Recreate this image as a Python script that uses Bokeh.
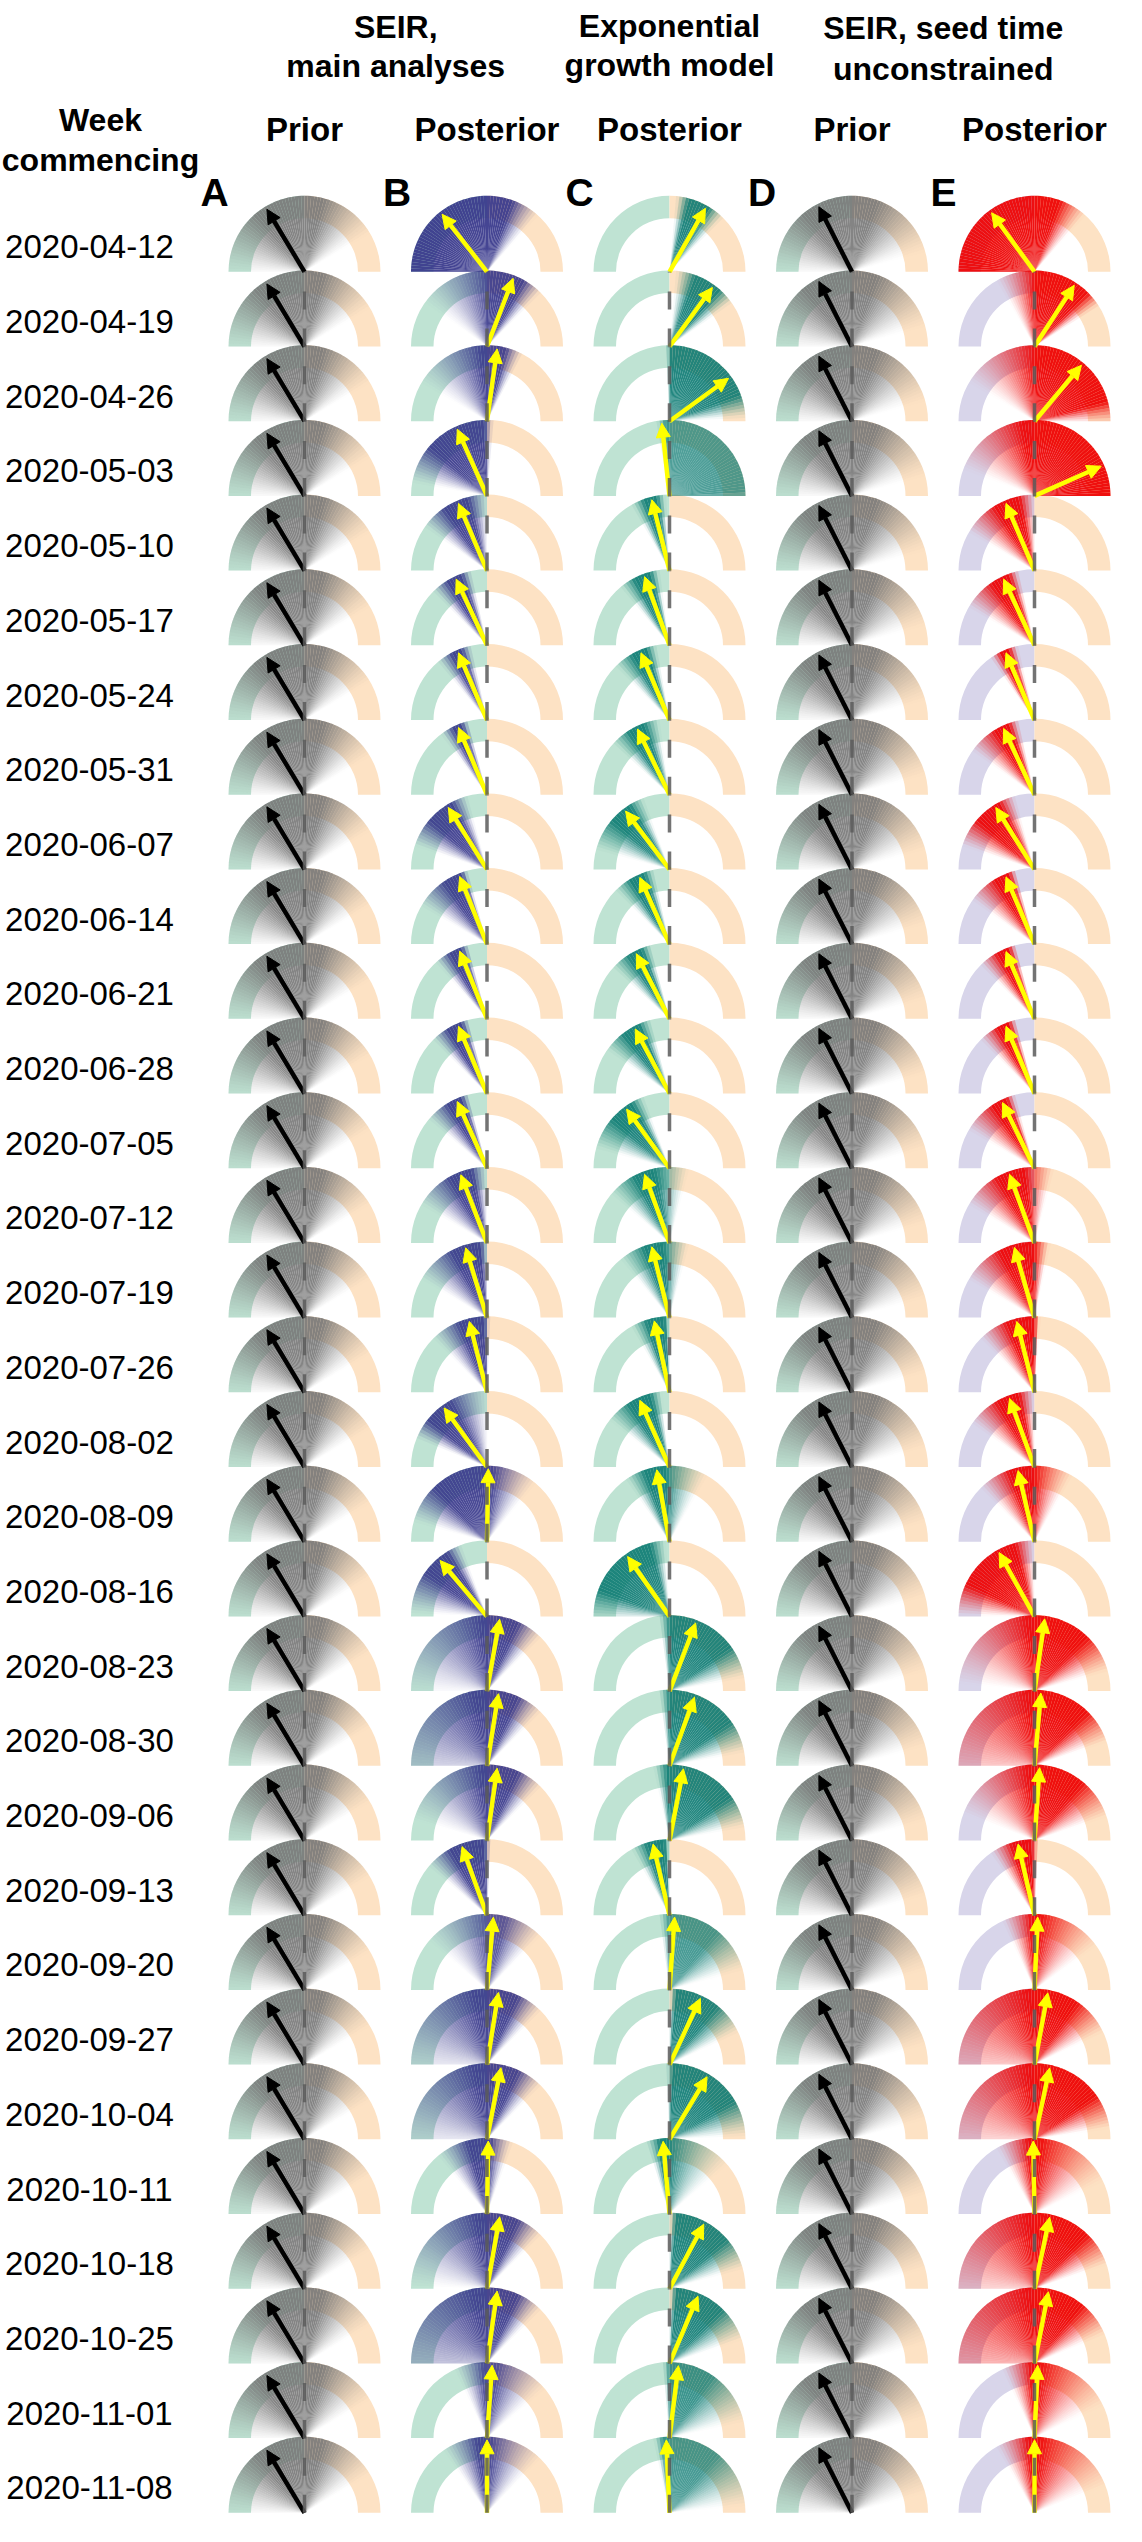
import numpy as np
from bokeh.plotting import figure
from bokeh.models import ColumnDataSource, Range1d, Arrow, NormalHead
from bokeh.core.properties import value
from bokeh.embed import file_html
from bokeh.resources import INLINE

# ---------------- data ----------------
weeks = ["2020-04-12", "2020-04-19", "2020-04-26", "2020-05-03", "2020-05-10",
         "2020-05-17", "2020-05-24", "2020-05-31", "2020-06-07", "2020-06-14",
         "2020-06-21", "2020-06-28", "2020-07-05", "2020-07-12", "2020-07-19",
         "2020-07-26", "2020-08-02", "2020-08-09", "2020-08-16", "2020-08-23",
         "2020-08-30", "2020-09-06", "2020-09-13", "2020-09-20", "2020-09-27",
         "2020-10-04", "2020-10-11", "2020-10-18", "2020-10-25", "2020-11-01",
         "2020-11-08"]

group_titles = [["SEIR,", "main analyses"], ["Exponential", "growth model"],
                ["SEIR, seed time", "unconstrained"]]
column_titles = ["Prior", "Posterior", "Posterior", "Prior", "Posterior"]
panel_letters = ["A", "B", "C", "D", "E"]

# Dial readings in degrees of tilt from vertical (negative = decline, positive = growth).
# med = median (arrow); lo / core_lo / core_hi / hi describe the shaded density band.
prior_main = dict(med=-31, lo=-95, core_lo=-40, core_hi=15, hi=60, peak=0.9)
prior_seed = dict(med=-27, lo=-95, core_lo=-40, core_hi=20, hi=75, peak=0.9)

seir_med = [-38, 21, 8, -24, -23, -25, -23, -23, -32, -22, -22, -23, -24, -21, -17, -14,
            -36, 1, -40, 10, 9, 8, -20, 5, 9, 11, 1, 10, 8, 4, 0]
seir_lo = [-100, -55, -60, -80, -55, -45, -40, -37, -72, -60, -42, -45, -50, -60, -60, -45,
           -68, -75, -88, -95, -130, -75, -50, -50, -110, -110, -40, -90, -150, -25, -35]
seir_clo = [-95, 2, -5, -50, -35, -32, -28, -27, -50, -35, -30, -32, -32, -30, -28, -22,
            -52, -45, -55, -5, -10, -5, -30, 0, -10, -10, -15, -8, -10, -3, -8]
seir_chi = [20, 30, 15, -2, -15, -20, -20, -20, -28, -20, -20, -20, -20, -12, -5, -2,
            -30, 5, -32, 25, 25, 25, -2, 15, 25, 25, 3, 25, 25, 8, 3]
seir_hi = [42, 45, 28, 5, 1, -12, -12, -14, -15, -15, -14, -14, -14, 0, 1, 2,
           2, 40, -20, 45, 45, 45, 3, 45, 45, 45, 20, 45, 45, 50, 45]
seir_peak = [0.92, 0.9, 0.9, 0.9, 0.9, 0.9, 0.9, 0.9, 0.9, 0.9, 0.9, 0.9, 0.9, 0.9, 0.9, 0.9,
             0.9, 0.9, 0.9, 0.9, 0.9, 0.9, 0.9, 0.8, 0.9, 0.9, 0.9, 0.9, 0.9, 0.85, 0.9]

expo_med = [29.5, 36, 54, -6, -14, -20, -23, -26, -37, -24, -27, -28, -36, -20, -14, -12,
            -24, -10, -35, 21, 20, 11, -13, 4, 25, 31, -5, 28, 23, 7, -2.5]
expo_lo = [5, 5, -2, -10, -30, -40, -45, -48, -75, -45, -48, -55, -75, -50, -40, -30,
           -52, -35, -95, -8, -8, -12, -30, -8, 0, -2, -18, 0, 0, -5, -12]
expo_clo = [15, 20, 0, -3, -20, -28, -30, -33, -50, -32, -33, -38, -50, -28, -20, -18,
            -33, -20, -70, 0, 0, -2, -18, 0, 5, 2, -8, 5, 5, 0, -5]
expo_chi = [32, 42, 70, 88, -10, -15, -18, -20, -32, -20, -22, -24, -30, -12, -5, -4,
            -15, -4, -15, 55, 55, 55, -4, 40, 40, 60, 0, 50, 45, 35, 40]
expo_hi = [45, 55, 88, 95, -3, -8, -10, -8, -20, -12, -14, -14, -20, 15, 15, 0,
           -6, 30, -3, 80, 80, 80, 0, 75, 65, 88, 50, 75, 72, 78, 85]
expo_peak = [0.9, 0.9, 0.9, 0.72, 0.9, 0.9, 0.9, 0.9, 0.9, 0.9, 0.9, 0.9, 0.9, 0.9, 0.9, 0.9,
             0.9, 0.9, 0.9, 0.9, 0.9, 0.9, 0.9, 0.75, 0.9, 0.9, 0.9, 0.9, 0.9, 0.8, 0.75]

seed_med = [-36, 33, 40, 66, -23, -25, -23, -25, -32, -23, -23, -23, -26, -20, -16, -14,
            -20, -13, -29, 8, 5, 4, -13, 2.5, 10.5, 12, -1, 12, 11, 2.5, 0]
seed_lo = [-100, -30, -60, -70, -60, -60, -35, -55, -72, -55, -45, -45, -60, -60, -60, -45,
           -55, -45, -90, -85, -130, -70, -35, -25, -130, -120, -30, -120, -150, -25, -30]
seed_clo = [-95, 0, 0, -10, -32, -35, -27, -32, -50, -32, -30, -30, -34, -30, -28, -22,
            -30, -20, -65, -5, -5, -5, -18, -3, -5, -5, -5, -5, -5, -3, -5]
seed_chi = [20, 45, 75, 95, -12, -20, -20, -20, -28, -20, -20, -20, -22, -8, 0, 0,
            -12, 0, -15, 45, 45, 40, -2, 5, 35, 55, 5, 45, 40, 5, 5]
seed_hi = [42, 58, 92, 100, 1, -12, -13, -12, -15, -14, -14, -14, -15, 15, 12, 4,
           0, 30, 0, 75, 72, 72, 3, 55, 65, 82, 65, 72, 68, 65, 70]
seed_peak = [0.93, 0.93, 0.93, 0.93, 0.93, 0.93, 0.93, 0.93, 0.93, 0.93, 0.93,
             0.93, 0.93, 0.93, 0.93, 0.93, 0.93, 0.93, 0.93, 0.93, 0.93, 0.93,
             0.93, 0.93, 0.93, 0.93, 0.93, 0.93, 0.93, 0.93, 0.93]

# ---------------- styling / layout ----------------
FONT = value("Liberation Sans")
X0, DX = 312.0, 182.5          # gauge centres (page px)
BASE0, DY = 279.3, 74.7        # gauge baselines (page px)
R_OUT, R_IN, R_ARROW = 76.0, 53.5, 73.0

GREEN, ORANGE, LAVENDER = "#bfe3d3", "#fde2c4", "#d8d5ea"
fan_colors = ["#777777", "#35358a", "#0b7a72", "#777777", "#ee0000"]
left_ring = [GREEN, GREEN, GREEN, GREEN, LAVENDER]
arrow_colors = ["black", "yellow", "yellow", "black", "yellow"]

n = len(weeks)


def col_series(d, key):
    return [d[key]] * n


columns = [
    dict(med=col_series(prior_main, "med"), lo=col_series(prior_main, "lo"),
         clo=col_series(prior_main, "core_lo"), chi=col_series(prior_main, "core_hi"),
         hi=col_series(prior_main, "hi"), peak=col_series(prior_main, "peak")),
    dict(med=seir_med, lo=seir_lo, clo=seir_clo, chi=seir_chi, hi=seir_hi, peak=seir_peak),
    dict(med=expo_med, lo=expo_lo, clo=expo_clo, chi=expo_chi, hi=expo_hi, peak=expo_peak),
    dict(med=col_series(prior_seed, "med"), lo=col_series(prior_seed, "lo"),
         clo=col_series(prior_seed, "core_lo"), chi=col_series(prior_seed, "core_hi"),
         hi=col_series(prior_seed, "hi"), peak=col_series(prior_seed, "peak")),
    dict(med=seed_med, lo=seed_lo, clo=seed_clo, chi=seed_chi, hi=seed_hi, peak=seed_peak),
]

p = figure(width=1126, height=2526, x_range=Range1d(8, 1134), y_range=Range1d(-2534, -8),
           output_backend="svg", toolbar_location=None, x_axis_location=None,
           y_axis_location=None, min_border=0)
p.outline_line_color = None
p.xgrid.visible = False
p.ygrid.visible = False
p.background_fill_color = "white"

cx = [X0 + DX * j for j in range(5)]
base = [BASE0 + DY * i for i in range(n)]

STEP = 2.5
edges = np.arange(-90.0, 90.0 + STEP / 2, STEP)
mids = (edges[:-1] + edges[1:]) / 2


def fan_alpha(t, lo, clo, chi, hi, peak):
    left = (t - lo) / max(clo - lo, 1e-6)
    right = (hi - t) / max(hi - chi, 1e-6)
    f = np.clip(np.minimum(np.minimum(left, right), 1.0), 0.0, 1.0)
    return peak * f ** 1.3


for j in range(5):
    # ring halves
    xs = [cx[j]] * n
    ys = [-b for b in base]
    p.annular_wedge(x=xs, y=ys, inner_radius=R_IN, outer_radius=R_OUT,
                    start_angle=np.pi / 2, end_angle=np.pi, fill_color=left_ring[j],
                    line_color=None)
    p.annular_wedge(x=xs, y=ys, inner_radius=R_IN, outer_radius=R_OUT,
                    start_angle=0, end_angle=np.pi / 2, fill_color=ORANGE, line_color=None)
    # density fan
    c = columns[j]
    fx, fy, fs, fe, fa = [], [], [], [], []
    for i in range(n):
        a = fan_alpha(mids, c["lo"][i], c["clo"][i], c["chi"][i], c["hi"][i], c["peak"][i])
        for k in range(len(mids)):
            if a[k] < 0.004:
                continue
            fx.append(cx[j])
            fy.append(-base[i])
            fs.append(np.radians(90 - edges[k + 1]))
            fe.append(np.radians(90 - edges[k]))
            fa.append(float(a[k]))
    src = ColumnDataSource(dict(x=fx, y=fy, s=fs, e=fe, a=fa))
    p.wedge(x="x", y="y", radius=R_OUT, start_angle="s", end_angle="e", source=src,
            fill_color=fan_colors[j], fill_alpha="a", line_color=None)
    # arrows
    ang = np.radians(90 - np.array(c["med"], dtype=float))
    asrc = ColumnDataSource(dict(x0=xs, y0=ys,
                                 x1=list(np.array(xs) + R_ARROW * np.cos(ang)),
                                 y1=list(np.array(ys) + R_ARROW * np.sin(ang))))
    col = arrow_colors[j]
    p.add_layout(Arrow(end=NormalHead(size=14, fill_color=col, line_color=col, line_width=1),
                       x_start="x0", y_start="y0", x_end="x1", y_end="y1",
                       line_color=col, line_width=4.5, source=asrc))
    # reference dashed line (on top)
    r = p.segment(x0=[cx[j]] * (n - 1), y0=[-b for b in base[1:]],
                  x1=[cx[j]] * (n - 1), y1=[-b for b in base[:-1]],
                  line_color="#5a5a5a", line_alpha=0.85, line_width=3.5, line_dash="18 19")
    r.level = "overlay"

# ---------------- texts ----------------
p.text(x=[97] * n, y=[-(b - 25) for b in base], text=weeks, text_font=FONT,
       text_font_size="33px", text_align="center", text_baseline="alphabetic",
       text_color="black")

p.text(x=[108, 108], y=[-127, -167], text=["Week", "commencing"], text_font=FONT,
       text_font_size="32px", text_font_style="bold", text_align="center",
       text_baseline="alphabetic", text_color="black")

p.text(x=cx, y=[-137] * 5, text=column_titles, text_font=FONT, text_font_size="33px",
       text_font_style="bold", text_align="center", text_baseline="alphabetic",
       text_color="black")

p.text(x=[c - 104 for c in cx], y=[-200] * 5, text=panel_letters, text_font=FONT,
       text_font_size="39px", text_font_style="bold", text_align="left",
       text_baseline="alphabetic", text_color="black")

gx = [(cx[0] + cx[1]) / 2, cx[2], (cx[3] + cx[4]) / 2]
gy = [(34, 73), (33, 72), (35, 76)]
tx, ty, tt = [], [], []
for g in range(3):
    for L in range(2):
        tx.append(gx[g])
        ty.append(-gy[g][L])
        tt.append(group_titles[g][L])
p.text(x=tx, y=ty, text=tt, text_font=FONT, text_font_size="32px", text_font_style="bold",
       text_align="center", text_baseline="alphabetic", text_color="black")

open("out.html", "w").write(file_html(p, INLINE))
